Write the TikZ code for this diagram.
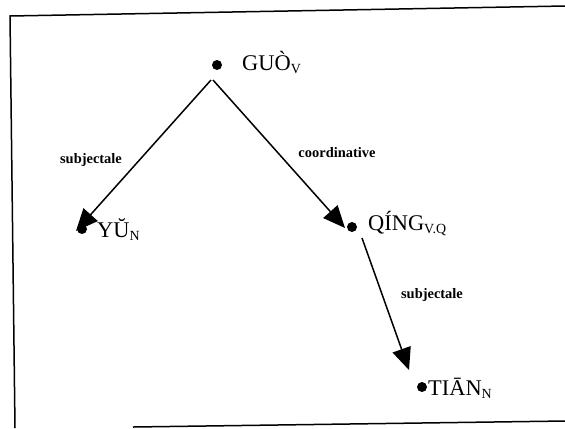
\documentclass[tikz,border=0pt]{standalone}
\usepackage{fontspec}
\setmainfont{Liberation Serif}
\usetikzlibrary{arrows.meta}
\newcommand{\lsub}[1]{\raisebox{-3bp}{\fontsize{14}{14}\selectfont #1}}
\tikzset{
  dotnode/.style={circle,fill=black,inner sep=0pt,minimum size=10bp},
  word/.style={anchor=base west,inner sep=0pt,font=\fontsize{22.5}{22}\selectfont},
  rel/.style={anchor=base,inner sep=0pt,font=\fontsize{14.5}{15}\selectfont\bfseries},
  dep/.style={line width=1.5bp,-{Triangle[length=22bp,width=19bp]}},
  frame/.style={line width=1.5bp}
}
\begin{document}
\begin{tikzpicture}[x=1bp,y=-1bp]
\useasboundingbox (0,0) rectangle (565,428);
% frame
\coordinate (f1) at (10,16);
\coordinate (f2) at (565,6);
\coordinate (f3) at (15,428);
\coordinate (f4) at (133,427);
\coordinate (f5) at (565,421);
\draw[frame] (f2) -- (f1) -- (f3);
\draw[frame] (f4) -- (f5);
% words
\node[dotnode] (guo) at (217,65) {};
\node[word] (guot) at (242,70) {GUÒ\lsub{V}};
\node[dotnode] (yu) at (82,229) {};
\node[word] (yut) at (97,237) {YŬ\lsub{N}};
\node[dotnode] (qing) at (352,227) {};
\node[word] (qingt) at (368,230) {QÍNG\lsub{V.Q}};
\node[dotnode] (tian) at (422,387) {};
\node[word] (tiant) at (428,395) {TIĀN\lsub{N}};
% connector ends
\coordinate (guo-a) at (211,80);
\coordinate (guo-b) at (213,80);
\coordinate (yu-in) at (76,231);
\coordinate (qing-in) at (345,228);
\coordinate (qing-out) at (362,238);
\coordinate (tian-in) at (409,370);
\draw[dep] (guo-a) -- (yu-in);
\draw[dep] (guo-b) -- (qing-in);
\draw[dep] (qing-out) -- (tian-in);
% relation labels
\node[rel] (l1) at (91,163) {subjectale};
\node[rel] (l2) at (337,157) {coordinative};
\node[rel] (l3) at (432,298) {subjectale};
\end{tikzpicture}
\end{document}
